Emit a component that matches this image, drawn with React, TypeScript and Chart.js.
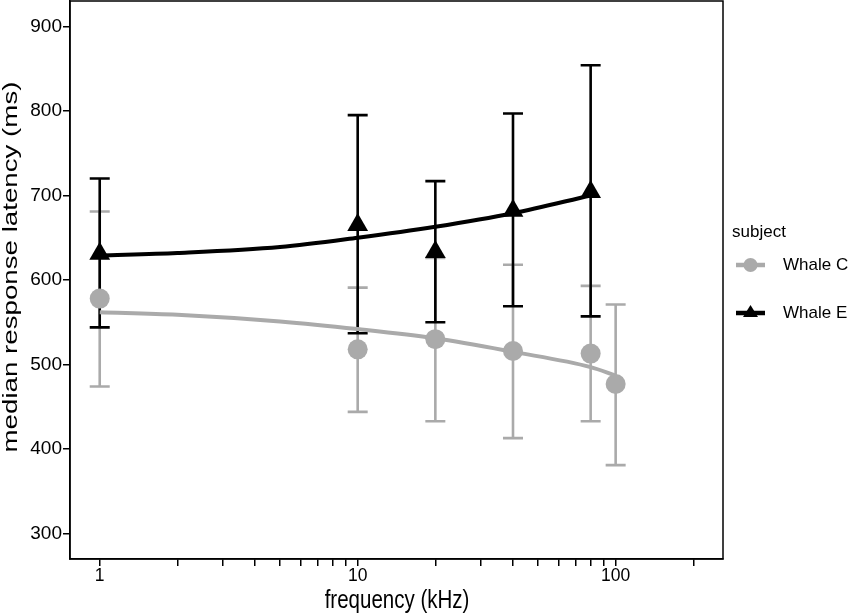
import { useEffect, useRef } from 'react';
import { Chart, registerables } from 'chart.js';

Chart.register(...registerables);

// measured points
const freqC = [1, 10, 20, 40, 80, 100];
const whaleC = [578, 518, 530, 516, 513, 477];
const whaleCLow = [474, 444, 433, 413, 433, 381];
const whaleCHigh = [681, 591, 626, 618, 593, 571];

const freqE = [1, 10, 20, 40, 80];
const whaleE = [631, 665, 633, 682, 704];
const whaleELow = [544, 537, 550, 569, 557];
const whaleEHigh = [720, 795, 717, 797, 854];

// fitted curves
const fitFreqC = [1, 2, 5, 10, 20, 40, 80, 100];
const fitC = [562, 559, 551, 542, 531, 515, 497, 487];
const fitFreqE = [1, 2, 5, 10, 20, 40, 80];
const fitE = [629, 632, 639, 650, 663, 679, 700];

const xTicks = [1, 2, 3, 4, 5, 6, 7, 8, 9, 10, 20, 30, 40, 50, 60, 70, 80, 90, 100, 200];
const xLabels = [1, 10, 100];
const yTicks = [300, 400, 500, 600, 700, 800, 900];

const subjects = ['Whale C', 'Whale E'];
const GREY = '#aaaaaa';
const BLACK = '#000000';
const FONT = '"Liberation Sans", Arial, sans-serif';

const errorBarPlugin = {
  id: 'errorBars',
  beforeDatasetsDraw(chart: any) {
    const { ctx, scales } = chart;
    const x = scales.x;
    const y = scales.y;
    const groups = [
      { xs: freqC, lo: whaleCLow, hi: whaleCHigh, color: GREY },
      { xs: freqE, lo: whaleELow, hi: whaleEHigh, color: BLACK },
    ];
    ctx.save();
    ctx.lineWidth = 2.6;
    groups.forEach((g) => {
      ctx.strokeStyle = g.color;
      g.xs.forEach((f, i) => {
        const px = x.getPixelForValue(f);
        const top = y.getPixelForValue(g.hi[i]);
        const bot = y.getPixelForValue(g.lo[i]);
        ctx.beginPath();
        ctx.moveTo(px, top);
        ctx.lineTo(px, bot);
        ctx.moveTo(px - 10, top);
        ctx.lineTo(px + 10, top);
        ctx.moveTo(px - 10, bot);
        ctx.lineTo(px + 10, bot);
        ctx.stroke();
      });
    });
    ctx.restore();
  },
};

const framePlugin = {
  id: 'frameAndLegend',
  afterDraw(chart: any) {
    const { ctx, chartArea } = chart;
    ctx.save();
    // panel border
    ctx.strokeStyle = BLACK;
    ctx.lineWidth = 1.5;
    ctx.strokeRect(chartArea.left, chartArea.top, chartArea.right - chartArea.left, chartArea.bottom - chartArea.top);

    // axis titles (the source text is stretched, so scale it)
    ctx.fillStyle = BLACK;
    ctx.save();
    ctx.translate(397, 608);
    ctx.scale(0.82, 1);
    ctx.font = `25px ${FONT}`;
    ctx.textAlign = 'center';
    ctx.textBaseline = 'alphabetic';
    ctx.fillText('frequency (kHz)', 0, 0);
    ctx.restore();

    ctx.save();
    ctx.translate(12, 267);
    ctx.rotate(-Math.PI / 2);
    ctx.scale(1.42, 1);
    ctx.font = `19.5px ${FONT}`;
    ctx.textAlign = 'center';
    ctx.textBaseline = 'middle';
    ctx.fillText('median response latency (ms)', 0, 0);
    ctx.restore();

    // legend
    ctx.font = `17px ${FONT}`;
    ctx.textAlign = 'left';
    ctx.textBaseline = 'middle';
    ctx.fillText('subject', 732, 232);
    const rows = [265, 313];
    subjects.forEach((name, i) => {
      const color = i === 0 ? GREY : BLACK;
      const ly = rows[i];
      ctx.strokeStyle = color;
      ctx.fillStyle = color;
      ctx.lineWidth = 4.5;
      ctx.beginPath();
      ctx.moveTo(736, ly);
      ctx.lineTo(765, ly);
      ctx.stroke();
      ctx.beginPath();
      if (i === 0) {
        ctx.arc(750.5, ly, 7, 0, Math.PI * 2);
      } else {
        ctx.moveTo(750.5, ly - 8);
        ctx.lineTo(758, ly + 4);
        ctx.lineTo(743, ly + 4);
        ctx.closePath();
      }
      ctx.fill();
      ctx.fillStyle = BLACK;
      ctx.fillText(name, 783, ly);
    });
    ctx.restore();
  },
};

export default function App() {
  const chartRef = useRef<HTMLCanvasElement>(null);
  const chartInstance = useRef<Chart | null>(null);

  useEffect(() => {
    document.body.style.margin = '0';
    if (!chartRef.current) return;
    if (chartInstance.current) chartInstance.current.destroy();

    const toXY = (xs: number[], ys: number[]) => xs.map((v, i) => ({ x: v, y: ys[i] }));

    chartInstance.current = new Chart(chartRef.current, {
      type: 'line',
      data: {
        datasets: [
          {
            label: subjects[0],
            data: toXY(freqC, whaleC),
            showLine: false,
            pointStyle: 'circle',
            pointRadius: 10,
            pointBackgroundColor: GREY,
            pointBorderWidth: 0,
            order: 1,
          },
          {
            label: subjects[1],
            data: toXY(freqE, whaleE),
            showLine: false,
            pointStyle: 'triangle',
            pointRadius: 12,
            pointBackgroundColor: BLACK,
            pointBorderWidth: 0,
            order: 1,
          },
          {
            label: subjects[0] + ' fit',
            data: toXY(fitFreqC, fitC),
            borderColor: GREY,
            borderWidth: 4,
            pointRadius: 0,
            cubicInterpolationMode: 'monotone',
            order: 2,
          },
          {
            label: subjects[1] + ' fit',
            data: toXY(fitFreqE, fitE),
            borderColor: BLACK,
            borderWidth: 4,
            pointRadius: 0,
            cubicInterpolationMode: 'monotone',
            order: 2,
          },
        ],
      },
      options: {
        responsive: true,
        maintainAspectRatio: false,
        animation: false,
        events: [],
        layout: { autoPadding: false, padding: { top: 1, right: 128, left: 0, bottom: 0 } },
        plugins: {
          legend: { display: false },
          tooltip: { enabled: false },
        },
        scales: {
          x: {
            type: 'logarithmic',
            min: 0.767,
            max: 260.7,
            afterBuildTicks: (scale: any) => {
              scale.ticks = xTicks.map((v) => ({ value: v }));
            },
            afterFit: (scale: any) => {
              scale.height = 55;
              scale.paddingLeft = 0;
              scale.paddingRight = 0;
            },
            ticks: {
              autoSkip: false,
              maxRotation: 0,
              padding: 0,
              color: BLACK,
              font: { family: FONT, size: 17.5 },
              callback: (value: any) => (xLabels.includes(Number(value)) ? String(value) : ''),
            },
            grid: { drawOnChartArea: false, drawTicks: true, tickLength: 7, color: BLACK, lineWidth: 1.5 },
            border: { display: true, color: BLACK, width: 1.5 },
          },
          y: {
            type: 'linear',
            min: 270,
            max: 930,
            afterBuildTicks: (scale: any) => {
              scale.ticks = yTicks.map((v) => ({ value: v }));
            },
            afterFit: (scale: any) => {
              scale.width = 70;
              scale.paddingTop = 0;
              scale.paddingBottom = 0;
            },
            ticks: {
              padding: 1,
              color: BLACK,
              font: { family: FONT, size: 19 },
            },
            grid: { drawOnChartArea: false, drawTicks: true, tickLength: 7, color: BLACK, lineWidth: 1.5 },
            border: { display: true, color: BLACK, width: 1.5 },
          },
        },
      },
      plugins: [errorBarPlugin, framePlugin],
    } as any);

    return () => {
      if (chartInstance.current) {
        chartInstance.current.destroy();
        chartInstance.current = null;
      }
    };
  }, []);

  return (
    <div style={{ width: 851, height: 614, position: 'relative', background: '#fff' }}>
      <canvas ref={chartRef}></canvas>
    </div>
  );
}
